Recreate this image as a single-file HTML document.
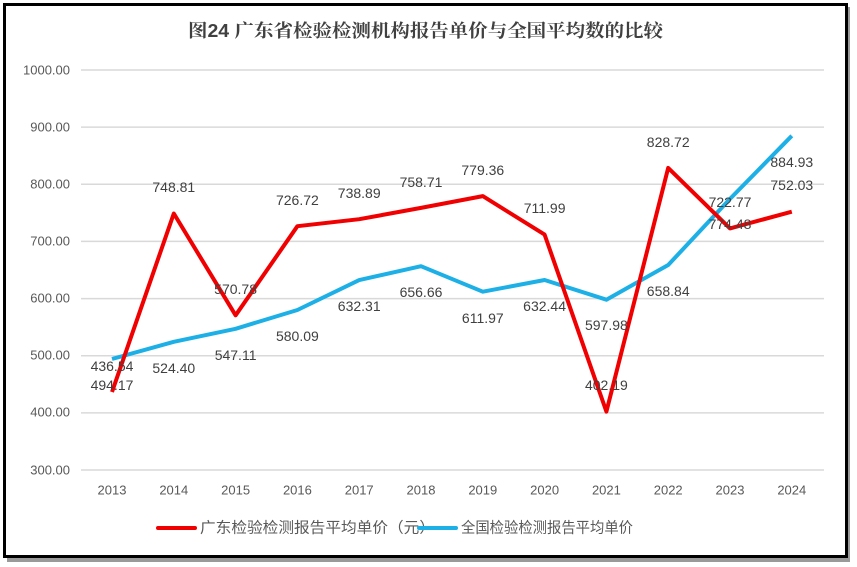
<!DOCTYPE html>
<html><head><meta charset="utf-8"><style>
body{margin:0;background:#fff;}
svg{display:block;font-family:"Liberation Sans","Noto Sans CJK SC",sans-serif;}
</style></head><body>
<svg width="857" height="567" viewBox="0 0 857 567">
<rect x="0" y="0" width="857" height="567" fill="#fff"/>
<rect x="7" y="7" width="843" height="555" fill="#9a9a9a"/>
<rect x="4.5" y="4.5" width="842" height="552" fill="#fff" stroke="#000" stroke-width="3"/>
<text x="188" y="31" textLength="475" lengthAdjust="spacingAndGlyphs" dominant-baseline="central" font-size="18" font-weight="bold" fill="#404040" font-family="Liberation Sans, Noto Serif CJK SC, serif">图24  广东省检验检测机构报告单价与全国平均数的比较</text>
<g stroke="#d9d9d9" stroke-width="1.5">
<line x1="81" x2="824" y1="70" y2="70"/><line x1="81" x2="824" y1="127.1" y2="127.1"/><line x1="81" x2="824" y1="184.3" y2="184.3"/><line x1="81" x2="824" y1="241.4" y2="241.4"/><line x1="81" x2="824" y1="298.6" y2="298.6"/><line x1="81" x2="824" y1="355.7" y2="355.7"/><line x1="81" x2="824" y1="412.9" y2="412.9"/><line x1="81" x2="824" y1="470" y2="470"/>
</g>
<g font-size="13" fill="#595959" text-anchor="end" dominant-baseline="central">
<text x="70" y="70">1000.00</text><text x="70" y="127">900.00</text><text x="70" y="184">800.00</text><text x="70" y="241">700.00</text><text x="70" y="298">600.00</text><text x="70" y="355">500.00</text><text x="70" y="412">400.00</text><text x="70" y="470">300.00</text>
</g>
<g font-size="13" fill="#595959" text-anchor="middle" dominant-baseline="central">
<text x="112" y="490">2013</text><text x="173.8" y="490">2014</text><text x="235.6" y="490">2015</text><text x="297.4" y="490">2016</text><text x="359.2" y="490">2017</text><text x="421" y="490">2018</text><text x="482.8" y="490">2019</text><text x="544.6" y="490">2020</text><text x="606.4" y="490">2021</text><text x="668.2" y="490">2022</text><text x="730" y="490">2023</text><text x="791.8" y="490">2024</text>
</g>
<polyline fill="none" stroke="#1cb0e6" stroke-width="4" stroke-linejoin="round" points="112,359 173.8,341.8 235.6,328.8 297.4,310 359.2,280.1 421,266.2 482.8,291.7 544.6,280 606.4,299.7 668.2,265 730,198.9 791.8,135.8"/>
<polyline fill="none" stroke="#f00000" stroke-width="4" stroke-linejoin="round" points="112,392 173.8,213.5 235.6,315.3 297.4,226.2 359.2,219.2 421,207.9 482.8,196.1 544.6,234.6 606.4,411.6 668.2,167.9 730,228.4 791.8,211.7"/>
<g font-size="14" fill="#404040" text-anchor="middle" dominant-baseline="central">
<text x="112" y="366">436.54</text><text x="173.8" y="187">748.81</text><text x="235.6" y="289">570.78</text><text x="297.4" y="200">726.72</text><text x="359.2" y="193">738.89</text><text x="421" y="182">758.71</text><text x="482.8" y="170">779.36</text><text x="544.6" y="208">711.99</text><text x="606.4" y="385">402.19</text><text x="668.2" y="142">828.72</text><text x="730" y="202">722.77</text><text x="791.8" y="185">752.03</text>
<text x="112" y="385">494.17</text><text x="173.8" y="368">524.40</text><text x="235.6" y="355">547.11</text><text x="297.4" y="336">580.09</text><text x="359.2" y="306">632.31</text><text x="421" y="292">656.66</text><text x="482.8" y="318">611.97</text><text x="544.6" y="306">632.44</text><text x="606.4" y="325">597.98</text><text x="668.2" y="291">658.84</text><text x="730" y="224">774.48</text><text x="791.8" y="162">884.93</text>
</g>
<line x1="158" x2="195" y1="528" y2="528" stroke="#f00000" stroke-width="4" stroke-linecap="round"/>
<text x="200" y="528" font-size="15" fill="#595959" dominant-baseline="central" textLength="235" lengthAdjust="spacingAndGlyphs">广东检验检测报告平均单价（元）</text>
<line x1="419" x2="456" y1="528" y2="528" stroke="#1cb0e6" stroke-width="4" stroke-linecap="round"/>
<text x="461" y="528" font-size="15" fill="#595959" dominant-baseline="central" textLength="172" lengthAdjust="spacingAndGlyphs">全国检验检测报告平均单价</text>
</svg>
</body></html>
